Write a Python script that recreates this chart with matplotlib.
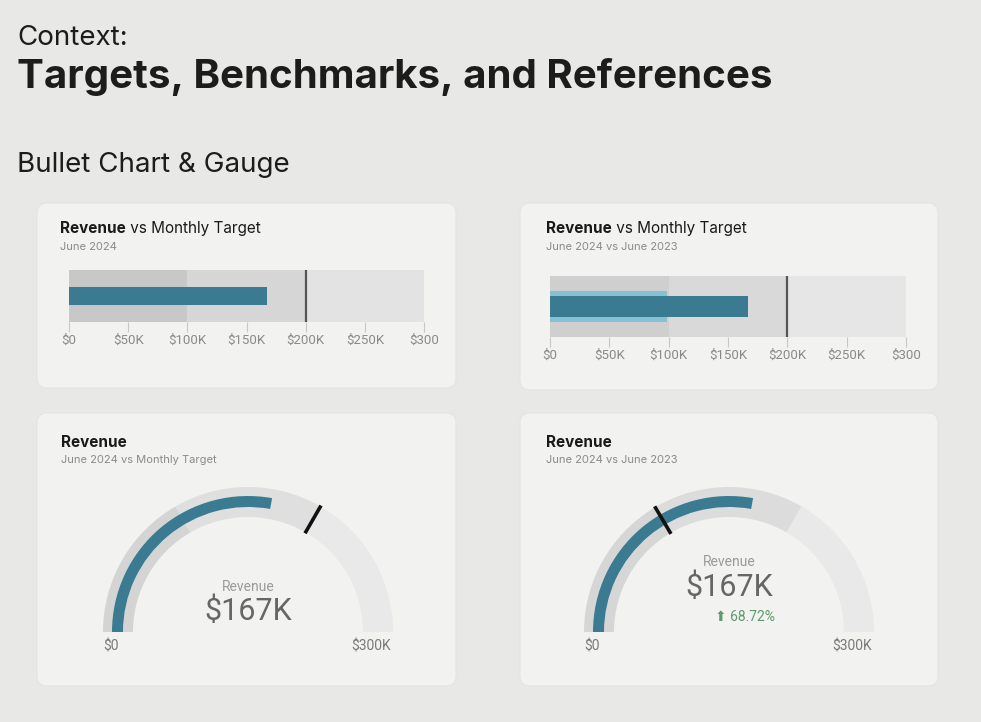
import matplotlib.pyplot as plt
from matplotlib.patches import FancyBboxPatch, Wedge
import numpy as np

W, H = 981, 722

# values in $K
scale_max = 300
range_edges = [0, 100, 200, 300]
revenue = 167
monthly_target = 200
revenue_2023 = 99
growth_pct = 68.72
bullet_ticks = [0, 50, 100, 150, 200, 250, 300]
bullet_tick_labels = ["$0", "$50K", "$100K", "$150K", "$200K", "$250K", "$300"]
gauge_end_labels = ["$0", "$300K"]

HEAD = ["Inter", "DejaVu Sans"]
NUM = ["Roboto", "DejaVu Sans"]
TEAL = "#3a7b91"
LIGHT_BLUE = "#86c1d3"
BG = "#e8e8e6"
PANEL = "#f2f2f1"


def px_axes(fig, x0, y0, x1, y1):
    return fig.add_axes([x0 / W, 1 - y1 / H, (x1 - x0) / W, (y1 - y0) / H])


def panel_title(ax, x, y, bold, rest, sub, sub_y):
    t = ax.text(x, y, bold, fontsize=11, fontweight="bold", family=HEAD,
                color="#1a1a1a", va="baseline")
    if rest:
        ax.annotate(rest, xy=(1, 0), xycoords=t, fontsize=11, family=HEAD,
                    color="#1a1a1a", va="bottom")
    ax.text(x, sub_y, sub, fontsize=8, family=HEAD, color="#8a8a8a", va="baseline")


def bullet(ax, range_colors, prior=None):
    lefts = range_edges[:-1]
    widths = np.diff(range_edges)
    ax.barh(0.5, widths, left=lefts, height=1, color=range_colors)
    if prior is not None:
        ax.barh(0.5, prior, height=0.5, color=LIGHT_BLUE)
    ax.barh(0.5, revenue, height=0.33, color=TEAL)
    ax.axvline(monthly_target, color="#555555", lw=1.6)
    ax.set_xlim(0, scale_max)
    ax.set_ylim(0, 1)
    ax.set_xticks(bullet_ticks, bullet_tick_labels)
    ax.set_yticks([])
    for s in ax.spines.values():
        s.set_visible(False)
    ax.set_facecolor("none")
    ax.tick_params(axis="x", length=7, width=0.8, color="#c8c8c8", labelsize=9.5,
                   labelcolor="#8a8a8a", pad=1.5)
    for lab in ax.get_xticklabels():
        lab.set_family(NUM)


def ang(v):
    return 180 - v / scale_max * 180


def gauge(ax, range_colors, marker):
    for (a, b), c in zip(zip(range_edges[:-1], range_edges[1:]), range_colors):
        ax.add_patch(Wedge((0, 0), 145, ang(b), ang(a), width=30, color=c, lw=0))
    ax.add_patch(Wedge((0, 0), 136, ang(revenue), ang(0), width=11, color=TEAL, lw=0))
    t = np.deg2rad(ang(marker))
    ax.plot([114 * np.cos(t), 146 * np.cos(t)], [114 * np.sin(t), 146 * np.sin(t)],
            color="#111111", lw=2.6, solid_capstyle="butt")
    ax.set_xlim(-165, 165)
    ax.set_ylim(-30, 165)
    ax.axis("off")
    ax.text(-137, -14, gauge_end_labels[0], ha="center", va="center", fontsize=10,
            family=NUM, color="#7a7a7a")
    ax.text(123, -14, gauge_end_labels[1], ha="center", va="center", fontsize=10,
            family=NUM, color="#7a7a7a")


fig = plt.figure(figsize=(W / 100, H / 100), dpi=100, facecolor=BG)
bg = fig.add_axes([0, 0, 1, 1])
bg.set_xlim(0, W)
bg.set_ylim(H, 0)
bg.axis("off")

bg.text(17, 45, "Context:", fontsize=20, family=HEAD, color="#1c1c1c", va="baseline")
bg.text(17, 88, "Targets, Benchmarks, and References", fontsize=29, fontweight="bold",
        family=HEAD, color="#1c1c1c", va="baseline")
bg.text(17, 172, "Bullet Chart & Gauge", fontsize=20, family=HEAD, color="#1c1c1c",
        va="baseline")

panels = [(37, 203, 456, 388), (520, 203, 938, 390), (37, 413, 456, 686), (520, 413, 938, 686)]
for x0, y0, x1, y1 in panels:
    bg.add_patch(FancyBboxPatch((x0, y0), x1 - x0, y1 - y0,
                                boxstyle="round,pad=0,rounding_size=10",
                                fc=PANEL, ec="#e4e4e2", lw=0.8))

panel_title(bg, 60, 233, "Revenue", " vs Monthly Target", "June 2024", 250)
panel_title(bg, 546, 233, "Revenue", " vs Monthly Target", "June 2024 vs June 2023", 250)
panel_title(bg, 61, 447, "Revenue", "", "June 2024 vs Monthly Target", 463)
panel_title(bg, 546, 447, "Revenue", "", "June 2024 vs June 2023", 463)

# bullet charts
b1 = px_axes(fig, 69, 270, 424, 322)
bullet(b1, ["#c9c8c8", "#d6d6d6", "#e3e3e3"])
b2 = px_axes(fig, 550, 276, 906, 337)
bullet(b2, ["#cfcfcf", "#d9d9d9", "#e6e6e6"], prior=revenue_2023)

# gauges
g1 = px_axes(fig, 248 - 165, 632 - 165, 248 + 165, 632 + 30)
gauge(g1, ["#d4d4d4", "#dfdfdf", "#e9e9e9"], monthly_target)
g1.text(0, 45, "Revenue", ha="center", va="center", fontsize=10, family=NUM, color="#9a9a9a")
g1.text(0, 21, f"${revenue}K", ha="center", va="center", fontsize=22, family=NUM,
        color="#666666")

g2 = px_axes(fig, 729 - 165, 632 - 165, 729 + 165, 632 + 30)
gauge(g2, ["#d6d6d6", "#dcdcdc", "#e9e9e9"], revenue_2023)
g2.text(0, 70, "Revenue", ha="center", va="center", fontsize=10, family=NUM, color="#9a9a9a")
g2.text(0, 45, f"${revenue}K", ha="center", va="center", fontsize=22, family=NUM,
        color="#666666")
g2.text(16, 15, f"\u2b06 {growth_pct:.2f}%", ha="center", va="center", fontsize=10,
        family=["Roboto", "DejaVu Sans"], color="#5e9a6c")

fig.savefig("out.png", dpi=100, facecolor=BG)
